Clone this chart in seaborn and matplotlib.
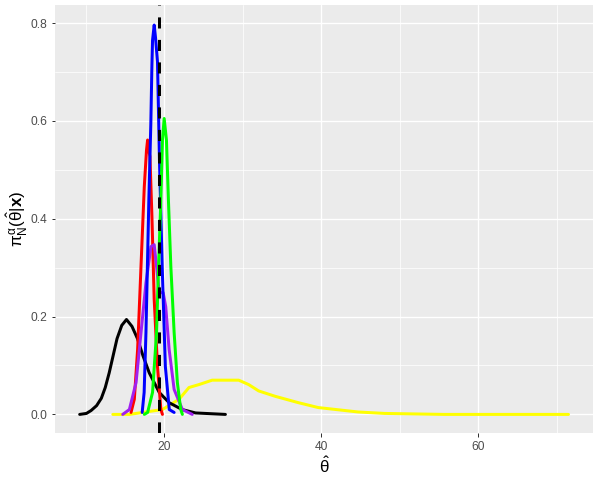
import numpy as np
import pandas as pd
import matplotlib
matplotlib.use("Agg")
import matplotlib.pyplot as plt
import seaborn as sns
from matplotlib.ticker import MultipleLocator

# Curves (theta_hat, density)
black_x = [9.24, 10.1, 10.7, 11.4, 12.0, 12.5, 13.0, 13.5, 14.0, 14.6, 15.2, 15.9, 16.6, 17.3, 18.1, 19.37, 20.63, 22.28, 24.0, 27.8]
black_y = [0.0, 0.002, 0.008, 0.018, 0.033, 0.055, 0.085, 0.12, 0.155, 0.182, 0.194, 0.18, 0.155, 0.12, 0.085, 0.045, 0.024, 0.01, 0.003, 0.0]

red_x = [15.78, 16.20, 16.62, 17.05, 17.47, 17.75, 17.89, 18.05, 18.19, 18.44, 18.73, 19.15, 19.58, 19.78]
red_y = [0.004, 0.031, 0.133, 0.303, 0.466, 0.54, 0.561, 0.54, 0.527, 0.405, 0.235, 0.098, 0.01, 0.0]

blue_x = [17.2, 17.45, 17.68, 18.05, 18.3, 18.44, 18.52, 18.73, 18.9, 19.15, 19.4, 19.75, 20.15, 20.65, 21.27]
blue_y = [0.004, 0.045, 0.167, 0.439, 0.594, 0.714, 0.765, 0.796, 0.77, 0.721, 0.52, 0.302, 0.098, 0.01, 0.004]

green_x = [17.47, 17.89, 18.52, 19.03, 19.28, 19.58, 19.78, 20.0, 20.29, 20.54, 20.85, 21.27, 21.68, 22.11, 22.32]
green_y = [0.0, 0.004, 0.045, 0.167, 0.302, 0.439, 0.561, 0.605, 0.561, 0.439, 0.302, 0.167, 0.065, 0.01, 0.0]

purple_x = [14.72, 15.57, 16.42, 17.05, 17.68, 18.32, 18.73, 19.03, 19.37, 19.87, 20.2, 20.63, 21.27, 22.32, 23.58]
purple_y = [0.0, 0.01, 0.065, 0.167, 0.269, 0.343, 0.347, 0.302, 0.249, 0.249, 0.22, 0.133, 0.051, 0.01, 0.0]

yellow_x = [13.46, 15.57, 19.78, 21.9, 23.16, 24.43, 26.11, 29.49, 30.76, 32.03, 34.14, 37.09, 39.62, 44.68, 48.06, 55.66, 71.48]
yellow_y = [0.0, 0.0, 0.01, 0.031, 0.055, 0.061, 0.07, 0.07, 0.061, 0.048, 0.037, 0.024, 0.014, 0.005, 0.002, 0.0, 0.0]

theta_true = 19.4

curves = {
    "yellow": (yellow_x, yellow_y),
    "black": (black_x, black_y),
    "red": (red_x, red_y),
    "purple": (purple_x, purple_y),
    "blue": (blue_x, blue_y),
    "green": (green_x, green_y),
}
colors = {"yellow": "#FFFF00", "black": "#000000", "red": "#FF0000",
          "purple": "#A020F0", "blue": "#0000FF", "green": "#00FF00"}

df = pd.concat([pd.DataFrame({"theta": x, "dens": y, "curve": k})
                for k, (x, y) in curves.items()], ignore_index=True)

sns.set_theme(style="darkgrid", rc={
    "axes.facecolor": "#EBEBEB",
    "grid.color": "white",
    "axes.edgecolor": "#EBEBEB",
})
plt.rcParams["font.family"] = ["Liberation Sans", "DejaVu Sans"]
plt.rcParams["mathtext.fontset"] = "custom"
plt.rcParams["mathtext.rm"] = "Liberation Sans"
plt.rcParams["mathtext.it"] = "Liberation Sans"
plt.rcParams["mathtext.bf"] = "Liberation Sans:bold"

fig = plt.figure(figsize=(595 / 72, 485 / 72), dpi=72)
ax = fig.add_axes([55 / 595, 1 - 433 / 485, 538 / 595, 428 / 485])

sns.lineplot(data=df, x="theta", y="dens", hue="curve", palette=colors,
             estimator=None, sort=False, linewidth=3.0, legend=False, ax=ax)
ax.axvline(theta_true, color="black", linestyle=(0, (3.7, 3.8)), linewidth=3.0)

ax.set_xlim(6.1, 74.6)
ax.set_ylim(-0.038, 0.837)
ax.xaxis.set_minor_locator(MultipleLocator(10))
ax.yaxis.set_minor_locator(MultipleLocator(0.1))
ax.set_xticks([20, 40, 60])
ax.set_xticklabels(["20", "40", "60"])
ax.set_yticks([0.0, 0.2, 0.4, 0.6, 0.8])
ax.set_yticklabels(["0.0", "0.2", "0.4", "0.6", "0.8"])
ax.grid(which="major", color="white", linewidth=1.4)
ax.grid(which="minor", color="white", linewidth=0.7)
ax.tick_params(which="major", length=3.5, width=1.0, color="#333333",
               labelcolor="#4D4D4D", labelsize=12, pad=4, bottom=True, left=True)
ax.tick_params(which="minor", length=0)
for s in ax.spines.values():
    s.set_visible(False)

ax.set_xlabel(r"$\hat{\theta}$", fontsize=17, color="black", labelpad=3)
ax.set_ylabel(r"$\pi_N^{\alpha}(\hat{\theta}|\mathbf{x})$", fontsize=17, color="black", labelpad=1)

fig.savefig("out.png", dpi=72)
